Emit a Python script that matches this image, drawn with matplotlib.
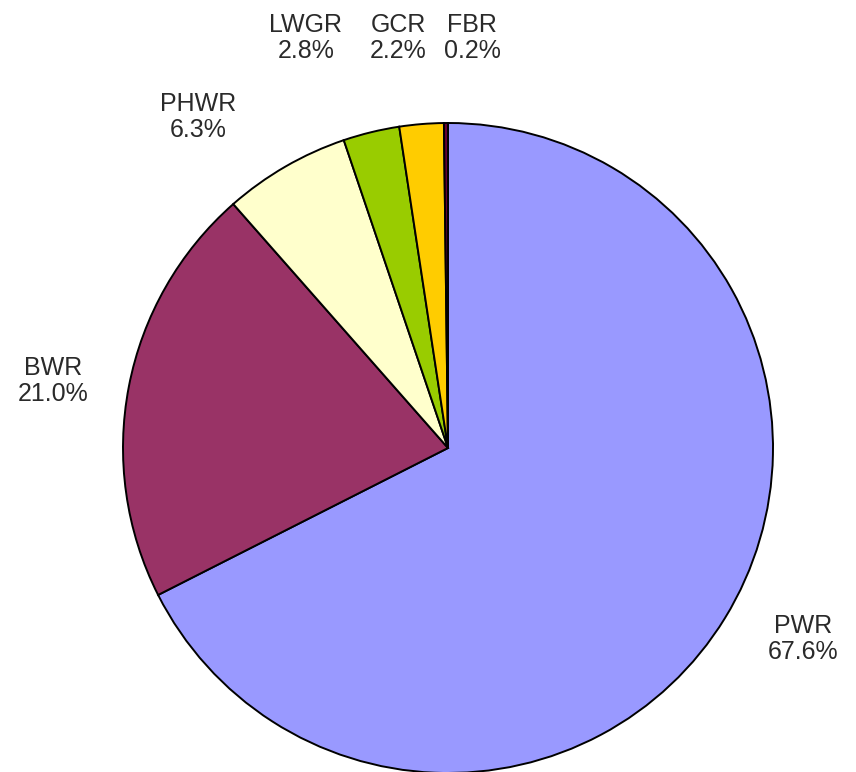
import matplotlib
matplotlib.use("Agg")
import matplotlib.pyplot as plt
from matplotlib import font_manager

categories = ["PWR", "BWR", "PHWR", "LWGR", "GCR", "FBR"]
shares = [67.6, 21.0, 6.3, 2.8, 2.2, 0.2]
colors = ["#9999FF", "#993366", "#FFFFCC", "#99CC00", "#FFCC00", "#660033"]

label_pos = {
    "PWR": (803, 133),
    "BWR": (53, 391),
    "PHWR": (198, 655),
    "LWGR": (306, 734),
    "GCR": (398, 734),
    "FBR": (472, 734),
}

names = {f.name for f in font_manager.fontManager.ttflist}
fam = ['Liberation Sans Narrow', 'DejaVu Sans'] if 'Liberation Sans Narrow' in names else ['Liberation Sans', 'DejaVu Sans']
fsize = 21 if fam[0] == 'Liberation Sans Narrow' else 18
plt.rcParams['font.family'] = fam

fig = plt.figure(figsize=(8.56, 7.72), dpi=100)
ax = fig.add_axes([0, 0, 1, 1])

ax.pie(shares, colors=colors, startangle=90, counterclock=False,
       center=(448, 324), radius=325, frame=True,
       wedgeprops=dict(edgecolor='black', linewidth=1.4))
ax.set_xlim(0, 856)
ax.set_ylim(0, 772)
ax.set_aspect('auto')
ax.axis('off')

for cat, val in zip(categories, shares):
    x, y = label_pos[cat]
    ax.text(x, y, f"{cat}\n{val:.1f}%", ha='center', va='center',
            fontsize=fsize, color='#2a2a2a', linespacing=1.15)

fig.savefig("out.png", dpi=100, facecolor='white')
